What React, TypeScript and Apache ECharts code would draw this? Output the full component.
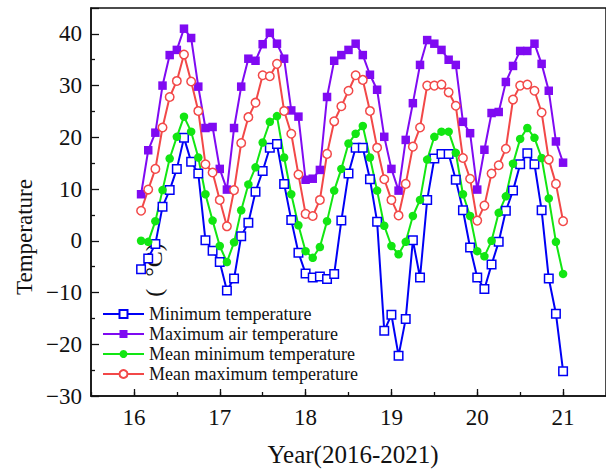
import React, { useEffect, useRef } from "react";
import * as echarts from "echarts";

// Monthly values, Jan 2016 .. Dec 2020 (60 months each)
const minTemp = [
  -5.5, -3.4, -0.6, 6.6, 9.8, 13.9, 19.9, 15.3, 13, 0.1, -1.9, -4.1,
  -9.6, -7.3, 0.9, 3.5, 9.5, 13.5, 18, 18.7, 11, 4, -2.3, -6.3,
  -7.1, -6.9, -7.4, -6.4, 3.9, 13, 18, 18, 11.9, 3.7, -17.4, -14.3,
  -22.2, -15.1, 0.1, -7.1, 7.9, 15.9, 16.8, 16.8, 11.8, 5.9, -1.3, -7.1,
  -9.3, -4.6, -0.2, 5.8, 9.7, 14.8, 16.9, 14.8, 5.9, -7.3, -14.1, -25.2,
];
const maxAirTemp = [
  9, 17.5, 20.9, 30, 35.9, 36.9, 41, 39.2, 29.8, 21.8, 22, 13.9,
  9.9, 21.8, 29.8, 35.2, 34.8, 38, 40.2, 38.1, 35.2, 25.2, 24, 11.8,
  12, 13.7, 27.8, 34.8, 35.9, 36.9, 38.1, 35.9, 32.1, 29.2, 20.1, 13.9,
  9.7, 19.5, 26.6, 34, 38.8, 38.1, 36.9, 35, 34, 23, 20.8, 9.9,
  17.6, 24.7, 24.9, 30.7, 33.8, 36.7, 36.7, 38.1, 34.2, 29, 19.2, 15.1,
];
const meanMinTemp = [
  0, -0.2, 3.8, 9.8, 15.9, 20.1, 24, 21.1, 16.1, 9, 3.9, -1,
  -4.1, -0.3, 5.9, 10.9, 14.2, 19, 23, 24.1, 16.1, 9, 3, -2,
  -3.3, -1.2, 3.8, 9.7, 13.9, 18.8, 20.7, 22.2, 16.1, 9.7, 2.9, -1,
  -2.6, -0.2, 4.8, 7.9, 15.7, 20.1, 21.1, 21.1, 17, 9, 4.8, -2,
  -3, 0, 5.4, 8.6, 14.9, 19.7, 21.8, 19.9, 16, 8.2, -0.2, -6.4,
];
const meanMaxTemp = [
  5.8, 9.9, 13.9, 21.9, 27.8, 30.9, 36, 30.8, 25.1, 14.8, 13.2, 7.9,
  2.8, 9.8, 18.9, 23.9, 26.7, 32, 31.8, 34.2, 25.1, 20.7, 12.8, 5.2,
  4.8, 7.9, 16.8, 23.1, 26, 29, 32, 31.1, 25.1, 18, 11.9, 7.9,
  4.9, 11, 18.2, 21.9, 30, 30, 30.2, 28.7, 26.1, 16, 12, 3.9,
  6.8, 13, 14.6, 17.8, 27.3, 30, 30.2, 29, 24.8, 15.7, 11, 3.8,
];
const yearTicks = [16, 17, 18, 19, 20, 21];

const FONT = '"Liberation Serif", "Times New Roman", serif';

// month k (0-based) of the series sits at year 16 + (k + 1) / 12
const toPairs = (vals: number[]) => vals.map((v, k) => [16 + (k + 1) / 12, v]);

const seriesDefs = [
  { name: "Minimum temperature", data: minTemp, color: "#0000f5", symbol: "rect", open: true },
  { name: "Maximum air temperature", data: maxAirTemp, color: "#7f0af2", symbol: "rect", open: false },
  { name: "Mean minimum temperature", data: meanMinTemp, color: "#12e612", symbol: "circle", open: false },
  { name: "Mean maximum temperature", data: meanMaxTemp, color: "#f24848", symbol: "circle", open: true },
];

export default function App() {
  const ref = useRef<HTMLDivElement>(null);

  useEffect(() => {
    if (!ref.current) return;
    const chart = echarts.init(ref.current, undefined, { renderer: "svg" });

    const option: any = {
      animation: false,
      backgroundColor: "#ffffff",
      grid: {
        left: 91,
        top: 8,
        right: -12,
        bottom: 75,
        show: true,
        borderColor: "#111",
        borderWidth: 1.5,
        backgroundColor: "transparent",
      },
      legend: {
        orient: "vertical",
        left: 102,
        top: 305,
        padding: 0,
        itemGap: 2,
        itemWidth: 41,
        itemHeight: 10,
        textStyle: { fontFamily: FONT, fontSize: 18, color: "#111", lineHeight: 18 },
        data: seriesDefs.map((s) => s.name),
      },
      xAxis: [
        {
          type: "value",
          min: 15.5,
          max: 21.5,
          position: "bottom",
          axisLine: { show: true, onZero: false, lineStyle: { color: "#111", width: 1.5 } },
          axisTick: { show: true, inside: true, length: 7, customValues: yearTicks, lineStyle: { color: "#111", width: 1.3 } },
          axisLabel: {
            customValues: yearTicks,
            fontFamily: FONT,
            fontSize: 23,
            color: "#111",
            margin: 10,
            formatter: (v: number) => String(v),
          },
          splitLine: { show: false },
        },
        {
          type: "value",
          min: 15.5,
          max: 21.5,
          interval: 0.5,
          position: "bottom",
          axisLine: { show: false, onZero: false },
          axisTick: { show: true, inside: true, length: 4, lineStyle: { color: "#111", width: 1.3 } },
          axisLabel: { show: false },
          splitLine: { show: false },
        },
      ],
      yAxis: {
        type: "value",
        min: -30,
        max: 45,
        interval: 10,
        axisLine: { show: true, onZero: false, lineStyle: { color: "#111", width: 1.5 } },
        axisTick: { show: true, inside: true, length: 8, lineStyle: { color: "#111", width: 1.3 } },
        minorTick: { show: true, splitNumber: 2, length: 4, lineStyle: { color: "#111", width: 1.3 } },
        axisLabel: {
          fontFamily: FONT,
          fontSize: 23,
          color: "#111",
          margin: 9,
          showMaxLabel: false,
          formatter: (v: number) => (v < 0 ? "\u2212" + Math.abs(v) : String(v)),
        },
        splitLine: { show: false },
      },
      graphic: [
        {
          type: "text",
          x: 24,
          y: 237,
          rotation: Math.PI / 2,
          style: {
            text: "Temperature",
            fontFamily: FONT,
            fontSize: 23,
            fill: "#111",
            align: "center",
            verticalAlign: "middle",
          },
        },
        {
          type: "text",
          x: 154,
          y: 270,
          rotation: Math.PI / 2,
          style: {
            text: "(  \u00b0C)",
            fontFamily: FONT,
            fontSize: 24,
            fill: "#111",
            align: "center",
            verticalAlign: "middle",
          },
        },
        {
          type: "text",
          x: 353,
          y: 454,
          style: {
            text: "Year(2016-2021)",
            fontFamily: FONT,
            fontSize: 25,
            fill: "#111",
            align: "center",
            verticalAlign: "middle",
          },
        },
      ],
      series: seriesDefs.map((s) => ({
        name: s.name,
        type: "line",
        xAxisIndex: 0,
        data: toPairs(s.data),
        symbol: s.symbol,
        symbolSize: 8.5,
        showAllSymbol: true,
        lineStyle: { color: s.color, width: 2 },
        itemStyle: s.open
          ? { color: "#ffffff", borderColor: s.color, borderWidth: 1.5 }
          : { color: s.color, borderColor: s.color, borderWidth: 0 },
        emphasis: { disabled: true },
      })),
    };

    chart.setOption(option);
    return () => chart.dispose();
  }, []);

  return (
    <div
      ref={ref}
      style={{ position: "fixed", left: 0, top: 0, width: 606, height: 471, background: "#fff" }}
    />
  );
}
